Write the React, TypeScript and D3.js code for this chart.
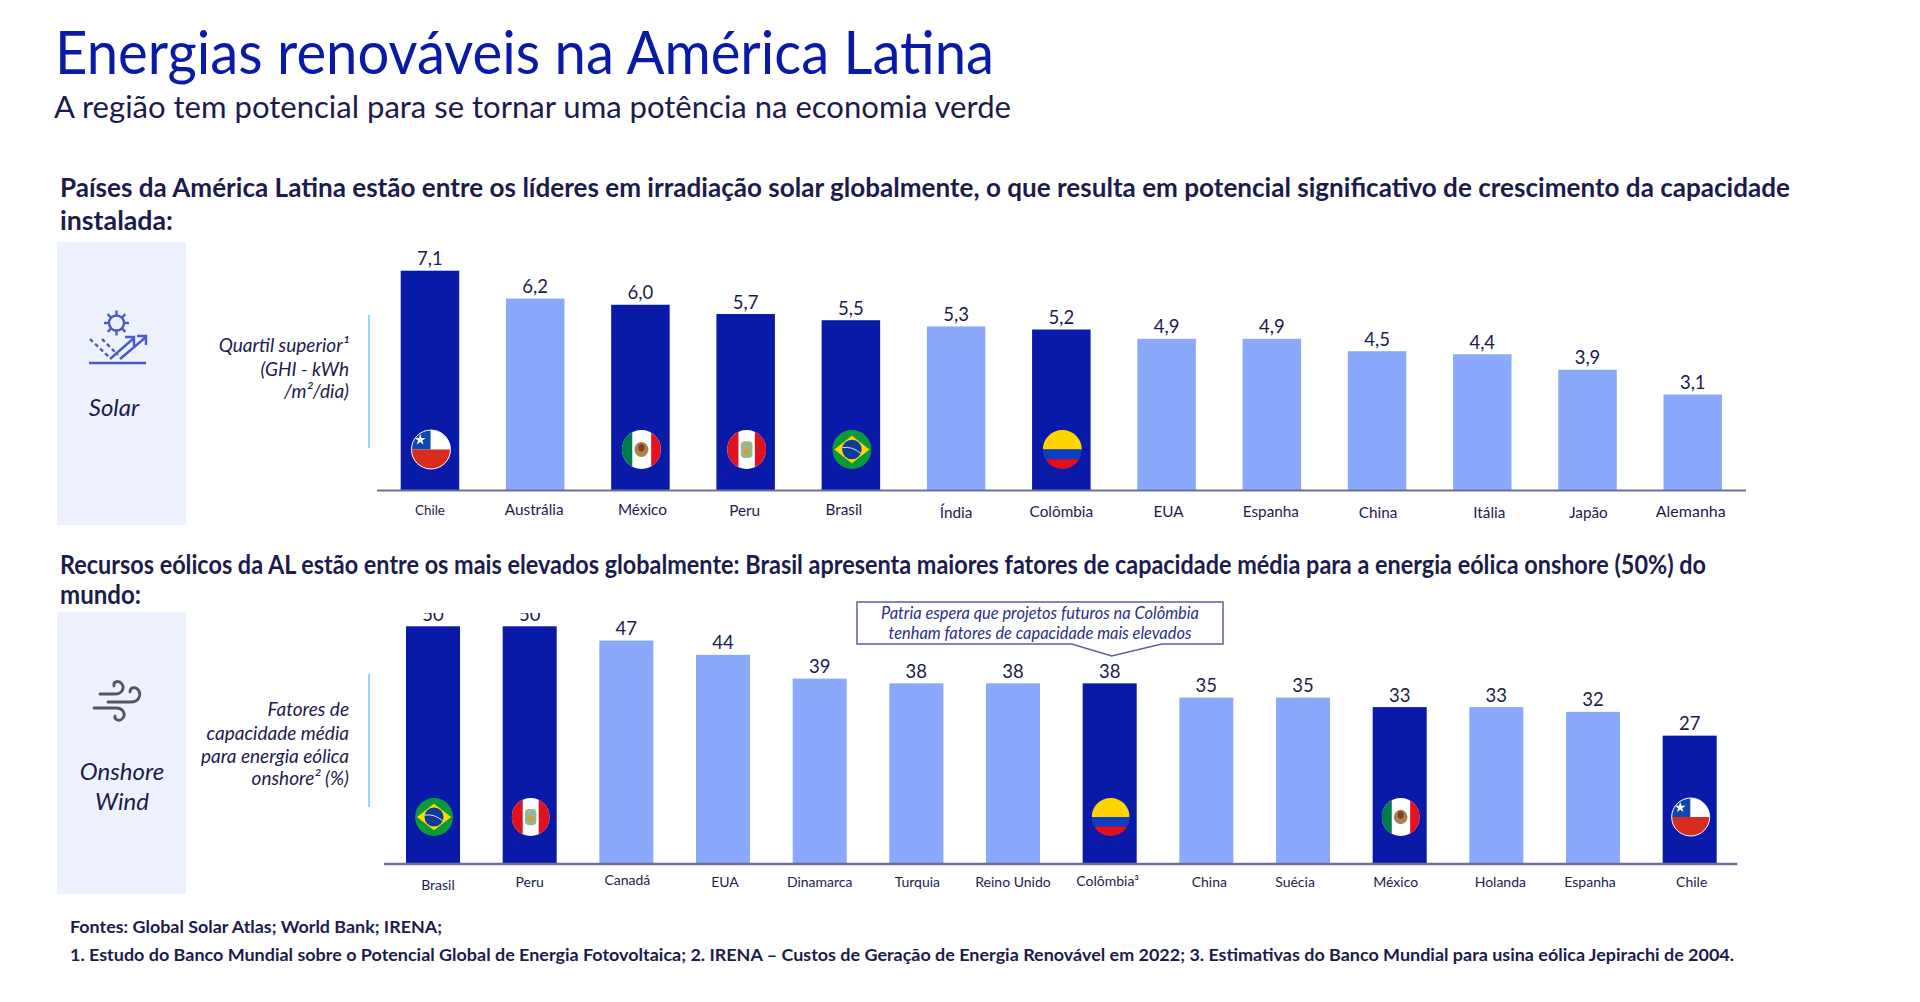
import React from 'react'
import * as d3 from 'd3';

const solarCountries = ['Chile', 'Austrália', 'México', 'Peru', 'Brasil', 'Índia', 'Colômbia', 'EUA', 'Espanha', 'China', 'Itália', 'Japão', 'Alemanha'];
const solarValues = [7.1, 6.2, 6.0, 5.7, 5.5, 5.3, 5.2, 4.9, 4.9, 4.5, 4.4, 3.9, 3.1];

const windCountries = ['Brasil', 'Peru', 'Canadá', 'EUA', 'Dinamarca', 'Turquia', 'Reino Unido', 'Colômbia³', 'China', 'Suécia', 'México', 'Holanda', 'Espanha', 'Chile'];
const windValues = [50, 50, 47, 44, 39, 38, 38, 38, 35, 35, 33, 33, 32, 27];

const latinAmerica = ['Chile', 'México', 'Peru', 'Brasil', 'Colômbia'];

// hand placed labels in the slide, nudged from the bar centre
const solarLabelDx = [0, -1, 2, -1, -7, 0, 0, 2, -1, 1, 7, 1, -2];
const solarLabelY = [515, 515, 515, 515.5, 515, 518, 516.5, 516.5, 516.5, 518, 517.5, 518, 516.5];
const windLabelDx = [5, 0, 1, 2, 0, 1, 0, -2, 3, -8, -4, 4, -3, 2];
const windLabelY = [890, 887, 885, 887, 887, 887, 887, 886, 887, 887, 887, 887, 887, 887];

const DARK = '#0a1aa8';
const LIGHT = '#8aa9fd';
const INK = '#1c1c4c';
const FONT = 'Lato, "Open Sans", sans-serif';

const xSolar = d3.scaleBand().domain(solarCountries).range([400.7, 1722]).paddingInner(0.444);
const ySolar = d3.scaleLinear().domain([0, 7.1]).range([490.5, 270.7]);
const xWind = d3.scaleBand().domain(windCountries).range([406, 1716.7]).paddingInner(0.441);
const yWind = d3.scaleLinear().domain([0, 50]).range([864, 626.3]);

const fmt = (v: number) => v.toFixed(1).replace('.', ',');

const Flag = ({ name, cx, cy, r }: { name: string; cx: number; cy: number; r: number }) => {
  const id = `flag-${Math.round(cx)}`;
  let body = null;
  if (name === 'Chile') {
    const star = d3.symbol().type(d3.symbolStar).size(r * 1.9)();
    body = (
      <>
        <rect x={-r} y={-r} width={2 * r} height={2 * r} fill="#fff" />
        <rect x={-r} y={-r} width={r * 0.98} height={r} fill="#0f47af" />
        <rect x={-r} y={0} width={2 * r} height={r} fill="#d72c1e" />
        <path d={star!} transform={`translate(${-r * 0.55},${-r * 0.5})`} fill="#fff" />
      </>
    );
  } else if (name === 'México') {
    body = (
      <>
        <rect x={-r} y={-r} width={2 * r} height={2 * r} fill="#fff" />
        <rect x={-r} y={-r} width={r * 0.53} height={2 * r} fill="#007a4d" />
        <rect x={r * 0.5} y={-r} width={r * 0.5} height={2 * r} fill="#e8101f" />
        <ellipse cx={0} cy={0} rx={r * 0.36} ry={r * 0.38} fill="#a5854f" />
        <ellipse cx={0} cy={-r * 0.1} rx={r * 0.16} ry={r * 0.2} fill="#8a3a2c" />
      </>
    );
  } else if (name === 'Peru') {
    body = (
      <>
        <rect x={-r} y={-r} width={2 * r} height={2 * r} fill="#fff" />
        <rect x={-r} y={-r} width={r * 0.58} height={2 * r} fill="#de1320" />
        <rect x={r * 0.42} y={-r} width={r * 0.58} height={2 * r} fill="#de1320" />
        <rect x={-r * 0.3} y={-r * 0.42} width={r * 0.6} height={r * 0.85} rx={r * 0.2} fill="#9db58d" />
        <circle cx={0} cy={r * 0.1} r={r * 0.14} fill="#d9a020" />
      </>
    );
  } else if (name === 'Brasil') {
    const q = r * 0.9;
    body = (
      <>
        <rect x={-r} y={-r} width={2 * r} height={2 * r} fill="#0a9a3a" />
        <path d={`M${-q},0L0,${-q * 0.78}L${q},0L0,${q * 0.78}Z`} fill="#ffd800" />
        <circle r={r * 0.5} fill="#10399c" />
        <path d={`M${-r * 0.48},${-r * 0.1}Q0,${-r * 0.18} ${r * 0.46},${r * 0.2}`} fill="none" stroke="#d6e2f2" strokeWidth={1} />
      </>
    );
  } else {
    body = (
      <>
        <rect x={-r} y={-r} width={2 * r} height={r} fill="#ffd500" />
        <rect x={-r} y={0} width={2 * r} height={r * 0.5} fill="#0b3fbf" />
        <rect x={-r} y={r * 0.5} width={2 * r} height={r * 0.5} fill="#e30f1e" />
      </>
    );
  }
  return (
    <g transform={`translate(${cx},${cy})`}>
      <clipPath id={id}><circle r={r} /></clipPath>
      <g clipPath={`url(#${id})`}>{body}</g>
      {name === 'Chile' && <circle r={r} fill="none" stroke="#f2f4fb" strokeWidth={1} />}
    </g>
  );
};

const Bars = ({ names, values, x, y, base, flagY, flagR, label, labelDx, labelY, labelSize, valueSize }: any) => (
  <g>
    {names.map((n: string, i: number) => {
      const key = n.replace('³', '');
      const isLatam = latinAmerica.includes(key);
      return (
        <rect key={n} x={x(n)} y={y(values[i])} width={x.bandwidth()} height={base - y(values[i])}
          fill={isLatam ? DARK : LIGHT} />
      );
    })}
    {names.map((n: string) => {
      const key = n.replace('³', '');
      if (!latinAmerica.includes(key)) return null;
      return <Flag key={n} name={key} cx={x(n)! + x.bandwidth() / 2 + 1} cy={flagY} r={flagR} />;
    })}
    <g clipPath={label} fontFamily={FONT} fontSize={valueSize} fill={INK} textAnchor="middle">
      {names.map((n: string, i: number) => (
        <text key={n} x={x(n)! + x.bandwidth() / 2} y={y(values[i]) - 5.5}>
          {Number.isInteger(values[i]) && values[i] > 10 ? values[i] : fmt(values[i])}
        </text>
      ))}
    </g>
    <g fontFamily={FONT} fill={INK} textAnchor="middle">
      {names.map((n: string, i: number) => (
        <text key={n} x={x(n)! + x.bandwidth() / 2 + labelDx[i]} y={labelY[i]}
          fontSize={typeof labelSize === 'function' ? labelSize(n) : labelSize}>{n}</text>
      ))}
    </g>
  </g>
);

const SolarIcon = () => (
  <g fill="none" stroke="#4a5bc8" strokeWidth={2.4}>
    <circle cx={116.5} cy={323} r={7.5} />
    {d3.range(8).map(i => {
      const a = i * Math.PI / 4;
      return <line key={i} x1={116.5 + 8 * Math.cos(a)} y1={323 + 8 * Math.sin(a)} x2={116.5 + 12.5 * Math.cos(a)} y2={323 + 12.5 * Math.sin(a)} />;
    })}
    <line x1={89} y1={363} x2={146} y2={363} />
    <path d="M90 339L110 358" strokeDasharray="4 3" />
    <path d="M102 339L118 355" strokeDasharray="4 3" />
    <path d="M110 359L134 338M125 337H134V346" />
    <path d="M120 359L146 337M137 336H146V345" />
  </g>
);

const WindIcon = () => (
  <g fill="none" stroke="#55565e" strokeWidth={2.8} strokeLinecap="round">
    <path d="M100 694H115C122 694 125 688 122 684C119 680 113 681 114 686" />
    <path d="M108 702H131C139 702 141 695 139 691C136 686 130 687 130 692" />
    <path d="M94 708H116C123 708 126 714 123 718C120 722 114 720 115 716" />
  </g>
);

const App = () => {
  const colombia = xWind('Colômbia³')! + xWind.bandwidth() / 2 + 2;
  return (
    <svg width={1920} height={1002} style={{ position: 'absolute', left: 0, top: 0, display: 'block' }} fontFamily={FONT}>
      <rect width={1920} height={1002} fill="#fff" />
      <clipPath id="cut50"><rect x={380} y={613} width={1400} height={260} /></clipPath>

      <text x={55} y={74} fontSize={60} fill={DARK} textLength={939} lengthAdjust="spacingAndGlyphs">Energias renováveis na América Latina</text>
      <text x={54} y={118} fontSize={31} fill={INK} textLength={957} lengthAdjust="spacingAndGlyphs">A região tem potencial para se tornar uma potência na economia verde</text>

      <g fontSize={26} fontWeight={700} fill={INK}>
        <text x={60} y={196.5} textLength={1730} lengthAdjust="spacingAndGlyphs">Países da América Latina estão entre os líderes em irradiação solar globalmente, o que resulta em potencial significativo de crescimento da capacidade</text>
        <text x={60} y={229.5} textLength={113} lengthAdjust="spacingAndGlyphs">instalada:</text>
        <text x={60} y={573.5} textLength={1646} lengthAdjust="spacingAndGlyphs">Recursos eólicos da AL estão entre os mais elevados globalmente: Brasil apresenta maiores fatores de capacidade média para a energia eólica onshore (50%) do</text>
        <text x={60} y={604} textLength={81} lengthAdjust="spacingAndGlyphs">mundo:</text>
      </g>

      <rect x={57} y={242} width={129} height={283} fill="#edf2fe" />
      <rect x={57} y={612} width={129} height={282} fill="#edf2fe" />
      <SolarIcon />
      <WindIcon />
      <g fontStyle="italic" fontSize={24} fill={INK}>
        <text x={114} y={416} textAnchor="middle">Solar</text>
        <text x={122} y={780} textAnchor="middle">Onshore</text>
        <text x={122} y={810} textAnchor="middle">Wind</text>
      </g>

      <line x1={369} x2={369} y1={315} y2={448} stroke="#9ad7f7" strokeWidth={2} />
      <line x1={369} x2={369} y1={674} y2={807} stroke="#9ad7f7" strokeWidth={2} />
      <g fontStyle="italic" fontSize={19} fill={INK} textAnchor="end">
        <text x={349} y={352}>Quartil superior¹</text>
        <text x={349} y={376}>(GHI - kWh</text>
        <text x={349} y={398}>/m²/dia)</text>
        <text x={349} y={716}>Fatores de</text>
        <text x={349} y={740}>capacidade média</text>
        <text x={349} y={763}>para energia eólica</text>
        <text x={349} y={785}>onshore² (%)</text>
      </g>

      <Bars names={solarCountries} values={solarValues} x={xSolar} y={ySolar} base={490.5}
        flagY={449.5} flagR={19.5} labelDx={solarLabelDx} labelY={solarLabelY}
        labelSize={(n: string) => (n === 'Chile' ? 13.5 : n === 'Alemanha' ? 16 : 15.3)} valueSize={18.5} />
      <line x1={377} x2={1746} y1={490.5} y2={490.5} stroke="#6c6f9c" strokeWidth={2} />

      <Bars names={windCountries} values={windValues} x={xWind} y={yWind} base={864}
        flagY={817} flagR={19} label="url(#cut50)" labelDx={windLabelDx} labelY={windLabelY}
        labelSize={14} valueSize={18.5} />
      <line x1={384} x2={1737.5} y1={864} y2={864} stroke="#6c6f9c" strokeWidth={2.5} />

      <path d={`M857 602H1223V644H${colombia + 50}L${colombia},656L${colombia - 40},644H857Z`}
        fill="#fff" stroke="#5a5fa5" strokeWidth={1.5} />
      <g fontStyle="italic" fontSize={16.4} fill="#2a2f8a" textAnchor="middle">
        <text x={1040} y={619}>Patria espera que projetos futuros na Colômbia</text>
        <text x={1040} y={639}>tenham fatores de capacidade mais elevados</text>
      </g>

      <g fontSize={17} fontWeight={700} fill={INK}>
        <text x={70} y={933} textLength={372} lengthAdjust="spacingAndGlyphs">Fontes: Global Solar Atlas; World Bank; IRENA;</text>
        <text x={70} y={961} textLength={1664} lengthAdjust="spacingAndGlyphs">1. Estudo do Banco Mundial sobre o Potencial Global de Energia Fotovoltaica; 2. IRENA – Custos de Geração de Energia Renovável em 2022; 3. Estimativas do Banco Mundial para usina eólica Jepirachi de 2004.</text>
      </g>
    </svg>
  );
};

export default App;
